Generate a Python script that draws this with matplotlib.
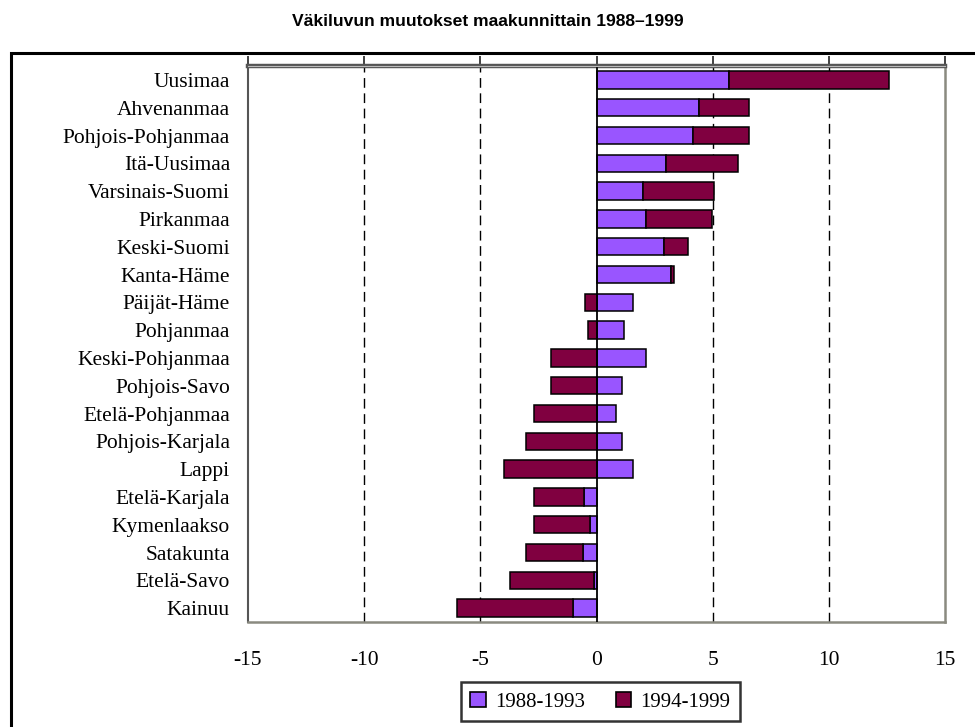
import matplotlib
matplotlib.use("Agg")
import matplotlib.pyplot as plt
import numpy as np
from matplotlib.patches import Rectangle

regions = ["Uusimaa", "Ahvenanmaa", "Pohjois-Pohjanmaa", "Itä-Uusimaa", "Varsinais-Suomi",
           "Pirkanmaa", "Keski-Suomi", "Kanta-Häme", "Päijät-Häme", "Pohjanmaa",
           "Keski-Pohjanmaa", "Pohjois-Savo", "Etelä-Pohjanmaa", "Pohjois-Karjala", "Lappi",
           "Etelä-Karjala", "Kymenlaakso", "Satakunta", "Etelä-Savo", "Kainuu"]
p1988_1993 = [5.7, 4.4, 4.15, 3.0, 2.0, 2.15, 2.9, 3.2, 1.55, 1.2,
              2.15, 1.1, 0.85, 1.1, 1.55, -0.55, -0.3, -0.6, -0.12, -1.0]
p1994_1999 = [6.9, 2.15, 2.4, 3.1, 3.05, 2.8, 1.05, 0.15, -0.5, -0.35,
              -1.95, -1.95, -2.7, -3.05, -4.0, -2.15, -2.4, -2.45, -3.6, -5.0]
series_labels = ["1988-1993", "1994-1999"]
xticks = [-15, -10, -5, 0, 5, 10, 15]
title = "Väkiluvun muutokset maakunnittain 1988–1999"

c1 = "#9955FF"
c2 = "#800040"

fig = plt.figure(figsize=(9.75, 7.27), dpi=100)
ax = fig.add_axes([248 / 975, 1 - 622 / 727, (945 - 248) / 975, (622 - 66) / 727])

y = np.arange(len(regions))
a = np.array(p1988_1993)
b = np.array(p1994_1999)
# stacking: same sign -> continue from first bar, else start at 0
left2 = np.where(np.sign(a) == np.sign(b), a, 0.0)

ax.barh(y, a, height=0.62, color=c1, edgecolor="black", linewidth=1.1, zorder=3)
ax.barh(y, b, left=left2, height=0.62, color=c2, edgecolor="black", linewidth=1.1, zorder=3)

ax.set_xlim(-15, 15)
ax.set_ylim(len(regions) - 0.5, -0.5)

for xv in [-10, -5, 5, 10]:
    ax.axvline(xv, color="black", lw=1.0, ls=(0, (7, 4)), zorder=1)
ax.axvline(0, color="black", lw=1.3, zorder=4)

ax.set_yticks(y)
ax.set_yticklabels(regions, family="Liberation Serif", fontsize=15.5)
ax.tick_params(axis="y", length=0, pad=13)

ax.set_xticks(xticks)
ax.set_xticklabels([str(v) for v in xticks], family="Liberation Serif", fontsize=15.5)
ax.tick_params(axis="x", top=True, bottom=False, labeltop=False, labelbottom=True,
               direction="out", length=7.5, width=1.3, color="#333333", pad=13.5)

for s in ["right", "bottom"]:
    ax.spines[s].set_color("#8a8a80")
    ax.spines[s].set_linewidth(1.8)
ax.spines["left"].set_color("#555555")
ax.spines["left"].set_linewidth(1.5)
ax.spines["top"].set_color("#555555")
ax.spines["top"].set_linewidth(3.2)
ax.axhline(-0.5, color="#bbbbbb", lw=0.8, zorder=5, clip_on=False)

handles = [Rectangle((0, 0), 1, 1, facecolor=c1, edgecolor="black", lw=1.2),
           Rectangle((0, 0), 1, 1, facecolor=c2, edgecolor="black", lw=1.2)]
leg = fig.legend(handles, series_labels, loc="center", bbox_to_anchor=(600.5 / 975, 0.035),
                 ncol=2, frameon=True, fancybox=False, edgecolor="black",
                 prop={"family": "Liberation Serif", "size": 15},
                 handlelength=0.75, handleheight=0.75, handletextpad=0.45,
                 columnspacing=1.45, borderpad=0.45)
leg.get_frame().set_linewidth(1.8)

fig.text(0.5, 1 - 22 / 727, title, ha="center", va="center", family="Liberation Sans",
         fontweight="bold", fontsize=12.6)

border = Rectangle((11 / 975, -0.01), (985 - 11) / 975, 1 - 53 / 727 + 0.01,
                   transform=fig.transFigure, fill=False, edgecolor="black", lw=2.2)
fig.patches.append(border)

fig.savefig("out.png", dpi=100)
